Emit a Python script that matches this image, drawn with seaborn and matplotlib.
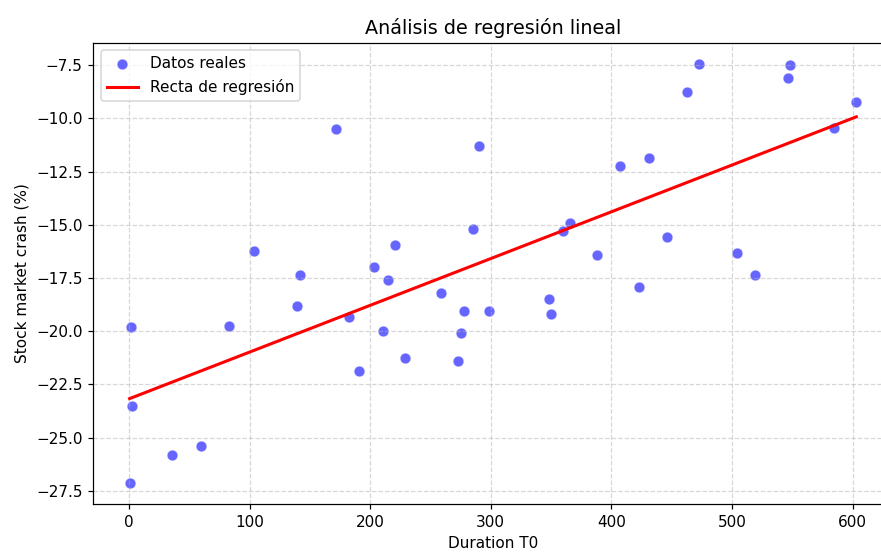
import numpy as np
import pandas as pd
import matplotlib
matplotlib.use('Agg')
import matplotlib.pyplot as plt
import seaborn as sns

# datos
duracion = [0.6, 2.5, 1.4, 35.7, 59.7, 82.6, 103.3, 139.5, 141.5, 171.9,
            182.6, 190.9, 202.8, 210.5, 215.2, 221.0, 228.7, 258.9, 273.2, 275.7,
            277.9, 285.1, 290.0, 298.9, 348.6, 350.0, 360.0, 365.8, 387.8, 407.2,
            422.6, 431.0, 445.9, 463.0, 472.9, 504.2, 518.8, 546.4, 548.1, 584.5,
            603.0]
caida = [-27.14, -23.51, -19.81, -25.84, -25.39, -19.76, -16.23, -18.84, -17.38, -10.49,
         -19.35, -21.87, -16.98, -19.98, -17.62, -15.96, -21.26, -18.20, -21.39, -20.09,
         -19.06, -15.21, -11.32, -19.04, -18.48, -19.21, -15.31, -14.90, -16.42, -12.24,
         -17.92, -11.85, -15.59, -8.74, -7.43, -16.34, -17.34, -8.10, -7.49, -10.44,
         -9.24]

df = pd.DataFrame({'Duration T0': duracion, 'Stock market crash (%)': caida})

fig = plt.figure(figsize=(881 / 110, 553 / 110), dpi=110)
ax = fig.add_axes([0.1059, 0.0886, 0.9073, 0.8342])

sns.scatterplot(data=df, x='Duration T0', y='Stock market crash (%)', color='blue',
                alpha=0.6, s=50, label='Datos reales', ax=ax)
sns.regplot(data=df, x='Duration T0', y='Stock market crash (%)', scatter=False, ci=None,
            color='red', label='Recta de regresión', line_kws={'linewidth': 2}, ax=ax)

ax.set_title('Análisis de regresión lineal', fontsize=12.5)
ax.set_xlabel('Duration T0')
ax.set_ylabel('Stock market crash (%)')
ax.grid(True, linestyle='--', alpha=0.5)
ax.legend(loc='upper left')

fig.savefig('out.png', dpi=110)
